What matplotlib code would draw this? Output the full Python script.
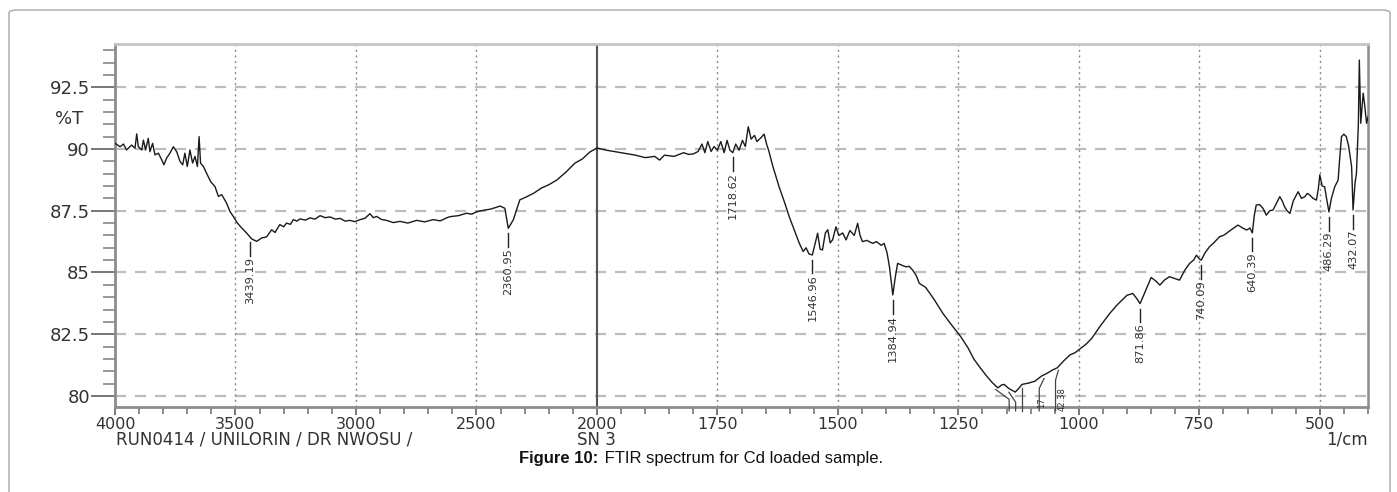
import numpy as np
import matplotlib
matplotlib.use("Agg")
import matplotlib.pyplot as plt
from matplotlib.ticker import FixedLocator, FixedFormatter
from matplotlib.patches import FancyBboxPatch

# ---------------- data ----------------
wavenumber = [
    4000, 3979, 3965, 3952, 3931, 3917, 3910, 3903, 3889, 3882, 3873, 3862, 3855, 3844,
    3834, 3820, 3806, 3797, 3786, 3772, 3758, 3744, 3730, 3719, 3710, 3700, 3689, 3678,
    3668, 3658, 3651, 3645, 3633, 3620, 3603, 3585, 3571, 3557, 3537, 3523, 3509, 3492,
    3474, 3454, 3433, 3412, 3391, 3371, 3350, 3336, 3316, 3300, 3288, 3272, 3260, 3245,
    3232, 3210, 3191, 3170, 3149, 3128, 3108, 3085, 3066, 3045, 3025, 3005, 2983, 2962,
    2942, 2928, 2914, 2895, 2873, 2845, 2817, 2785, 2748, 2715, 2679, 2650, 2624, 2610,
    2575, 2541, 2520, 2499, 2470, 2444, 2420, 2402, 2382, 2368, 2347, 2320, 2295, 2264,
    2230, 2200, 2167, 2130, 2091, 2060, 2029, 2000,
    1980, 1965, 1950, 1935, 1920, 1900, 1880, 1870, 1860, 1840, 1820, 1810, 1800,
    1790, 1782, 1776, 1770, 1763, 1757, 1750, 1743, 1736, 1730, 1724, 1718, 1712, 1705,
    1698, 1692, 1686, 1680, 1673, 1668, 1660, 1653, 1648, 1643, 1635, 1622, 1610, 1601,
    1590, 1580, 1572, 1566, 1560, 1553, 1547, 1542, 1537, 1532, 1526, 1521, 1516, 1511,
    1504, 1498, 1490, 1483, 1475, 1466, 1459, 1454, 1449, 1440, 1428, 1420, 1410, 1404,
    1398, 1393, 1386, 1381, 1376, 1368, 1359, 1352, 1345, 1338, 1331,
    1318, 1300, 1282, 1265, 1245, 1230, 1218, 1205, 1191, 1180, 1168, 1160, 1155, 1145,
    1132, 1125, 1118, 1105, 1091, 1078, 1064, 1055, 1045, 1030, 1018, 1008, 1000, 985,
    973, 955, 936, 920, 900, 888, 880, 873, 865, 850, 840, 832, 822, 812, 800, 791, 780,
    770, 762, 756, 750, 746, 738, 729, 720, 708, 700, 694, 686, 680, 670, 660, 652, 645,
    640, 636, 632, 625, 618, 611, 604, 597, 590, 583, 578, 573, 568, 562, 555, 545, 538,
    531, 526, 521, 514, 507, 503, 500, 495, 490, 486, 481, 476, 469, 462, 458, 455, 450,
    445, 440, 434, 431, 427, 424, 420, 418, 416, 415, 412, 410, 407, 403, 400,
]
transmittance = [
    90.23, 90.09, 90.20, 89.96, 90.16, 90.03, 90.61, 90.09, 89.96, 90.36, 89.96, 90.43, 89.89, 90.23,
    89.76, 89.83, 89.56, 89.36, 89.63, 89.83, 90.09, 89.89, 89.49, 89.36, 89.83, 89.29, 89.96, 89.43,
    89.70, 89.29, 90.50, 89.43, 89.29, 89.02, 88.68, 88.48, 88.08, 88.15, 87.81, 87.47, 87.27, 87.00,
    86.80, 86.60, 86.36, 86.26, 86.40, 86.44, 86.73, 86.62, 86.94, 86.85, 87.00, 86.95, 87.14, 87.08,
    87.17, 87.12, 87.21, 87.16, 87.30, 87.22, 87.25, 87.16, 87.19, 87.08, 87.11, 87.06, 87.14, 87.20,
    87.38, 87.22, 87.27, 87.15, 87.11, 87.02, 87.07, 87.00, 87.11, 87.05, 87.14, 87.09, 87.21, 87.26,
    87.30, 87.40, 87.36, 87.46, 87.52, 87.56, 87.63, 87.69, 87.60, 86.79, 87.13, 87.94, 88.05, 88.20,
    88.42, 88.55, 88.74, 89.05, 89.43, 89.60, 89.88, 90.04,
    89.95, 89.90, 89.85, 89.80, 89.75, 89.65, 89.70, 89.55, 89.75, 89.70, 89.85, 89.78, 89.80,
    89.90, 90.20, 89.85, 90.30, 89.90, 90.10, 89.95, 90.30, 89.85, 90.35, 89.95, 89.85, 90.20, 89.95,
    90.35, 90.10, 90.90, 90.40, 90.55, 90.30, 90.45, 90.60, 90.20, 89.90, 89.30, 88.47, 87.80, 87.26,
    86.70, 86.18, 85.85, 86.00, 85.75, 85.71, 86.20, 86.59, 85.95, 85.91, 86.60, 86.73, 86.20, 86.32,
    86.85, 86.50, 86.60, 86.32, 86.70, 86.50, 86.99, 86.50, 86.25, 86.30, 86.18, 86.25, 86.10, 86.18,
    85.80, 85.23, 84.09, 84.80, 85.37, 85.30, 85.23, 85.25, 85.10, 84.90, 84.56,
    84.40, 83.90, 83.34, 82.90, 82.40, 81.95, 81.50, 81.15, 80.80, 80.55, 80.33, 80.45, 80.47, 80.30,
    80.16, 80.30, 80.47, 80.52, 80.60, 80.80, 80.94, 81.05, 81.14, 81.45, 81.67, 81.75, 81.87, 82.10,
    82.34, 82.85, 83.34, 83.70, 84.08, 84.15, 83.95, 83.74, 84.10, 84.80, 84.65, 84.49, 84.70, 84.83, 84.75, 84.69, 85.10,
    85.37, 85.50, 85.70, 85.55, 85.50, 85.80, 86.04, 86.20, 86.45, 86.50, 86.58, 86.70, 86.78, 86.92, 86.80, 86.72, 86.80,
    86.60, 87.30, 87.73, 87.75, 87.60, 87.32, 87.50, 87.53, 87.80, 88.07, 87.90, 87.66, 87.50, 87.39, 87.90, 88.27, 88.00,
    88.07, 88.20, 88.14, 88.00, 87.93, 88.40, 88.95, 88.50, 88.47, 88.00, 87.45, 88.00, 88.47, 88.74, 89.80, 90.50, 90.60,
    90.50, 90.10, 89.28, 87.53, 88.60, 89.01, 91.00, 93.60, 92.00, 91.04, 91.80, 92.26, 91.80, 91.04, 91.30,
]

peak_labels = ["3439.19", "2360.95", "1718.62", "1546.96", "1384.94",
               "871.86", "740.09", "640.39", "486.29", "432.07"]
peak_wn = [3439.19, 2368.0, 1718.62, 1553.0, 1386.0, 873.0, 746.0, 640.0, 481.0, 431.0]

# crowded peaks near the minimum: leaders only, their labels run off the frame
crowded_wn = [1172.64, 1145.18, 1118.59, 1072.17, 1042.38]
# the label fragments still visible inside the frame
fragment_labels = ["17", "42.38"]
fragment_wn = [1077.0, 1034.0]

y_ticks = [80, 82.5, 85, 87.5, 90, 92.5]
y_ticklabels = ["80", "82.5", "85", "87.5", "90", "92.5"]
x_ticks = [4000, 3500, 3000, 2500, 2000, 1750, 1500, 1250, 1000, 750, 500]
x_ticklabels = ["4000", "3500", "3000", "2500", "2000", "1750", "1500", "1250", "1000", "750", "500"]

run_info = "RUN0414 / UNILORIN / DR NWOSU /"
sample_id = "SN 3"

# ---------------- figure ----------------
W, H = 1397, 492
fig = plt.figure(figsize=(W / 100, H / 100), dpi=100)


def fx(px):
    return px / W


def fy(py):
    return 1 - py / H


# outer rounded frame (bottom runs off the figure)
frame = FancyBboxPatch((fx(9), fy(530)), fx(1390) - fx(9), fy(10) - fy(530),
                       boxstyle="round,pad=0,rounding_size=0.006",
                       transform=fig.transFigure, fill=False,
                       edgecolor="#a8a8a8", linewidth=1.0)
fig.patches.append(frame)

ax = fig.add_axes([fx(115), fy(407), fx(1368) - fx(115), fy(44) - fy(407)])


def fwd(x):
    x = np.asarray(x, float)
    return np.where(x >= 2000, x, 2 * x - 2000)


def inv(u):
    u = np.asarray(u, float)
    return np.where(u >= 2000, u, (u + 2000) / 2)


ax.set_xscale("function", functions=(fwd, inv))
ax.set_xlim(4000, 400)
ax.set_ylim(79.555, 94.25)

wn = np.array(wavenumber, float)
tr = np.array(transmittance, float)
ax.plot(wn, tr, color="#1a1a1a", lw=1.0, zorder=5)

# grid
for yv in y_ticks:
    ax.axhline(yv, color="#bdbdbd", lw=1.6, ls=(0, (5, 4)), zorder=1)
for xv in x_ticks:
    if xv == 4000:
        continue
    if xv == 2000:
        ax.axvline(xv, color="#555555", lw=1.5, zorder=2)
    else:
        ax.axvline(xv, color="#8a8a8a", lw=1.0, ls=(0, (1.5, 2.5)), zorder=1)

# ticks
minor_x = [v for v in range(4000, 2000, -100) if v not in x_ticks] + \
          [v for v in range(2000, 399, -50) if v not in x_ticks]
minor_y = [v for v in np.arange(80, 94.3, 0.5) if min(abs(v - t) for t in y_ticks) > 1e-6]
ax.xaxis.set_major_locator(FixedLocator(x_ticks))
ax.xaxis.set_major_formatter(FixedFormatter(x_ticklabels))
ax.xaxis.set_minor_locator(FixedLocator(minor_x))
ax.yaxis.set_major_locator(FixedLocator(y_ticks))
ax.yaxis.set_major_formatter(FixedFormatter(y_ticklabels))
ax.yaxis.set_minor_locator(FixedLocator(minor_y))

ax.tick_params(axis="x", which="major", length=6, width=1.4, color="#777777",
               direction="out", pad=1.5, labelcolor="#333333", labelsize=11.5)
ax.tick_params(axis="x", which="minor", length=5, width=1.2, color="#777777", direction="out")
ax.tick_params(axis="y", which="major", length=17, width=1.4, color="#777777",
               direction="out", pad=1, labelcolor="#333333", labelsize=13)
ax.tick_params(axis="y", which="minor", length=8.5, width=1.2, color="#888888", direction="out")
for lab in ax.get_xticklabels() + ax.get_yticklabels():
    lab.set_family("DejaVu Sans")

for side, col, lw in (("left", "#8c8c8c", 2.0), ("bottom", "#8c8c8c", 2.0),
                      ("top", "#c4c4c4", 2.0), ("right", "#8c8c8c", 1.8)):
    ax.spines[side].set_color(col)
    ax.spines[side].set_linewidth(lw)

# peak labels
for lab, w in zip(peak_labels, peak_wn):
    t = np.interp(w, wn[::-1], tr[::-1])
    ax.plot([w, w], [t - 0.2, t - 0.75], color="#222222", lw=1.0, zorder=6)
    ax.text(w, t - 0.8, lab, rotation=90, ha="center", va="top",
            fontsize=8.2, color="#333333", family="DejaVu Sans", zorder=6)

# crowded leaders
offsets = [-28, -14, 0, 10, 6]
for w, off in zip(crowded_wn, offsets):
    t = np.interp(w, wn[::-1], tr[::-1])
    w2 = w + off
    ax.plot([w, w2, w2], [t - 0.15, t - 0.55, 79.4], color="#444444", lw=0.9,
            zorder=6, clip_on=False)
for lab, w in zip(fragment_labels, fragment_wn):
    ax.text(w, 80.35 if len(lab) > 2 else 79.95, lab, rotation=90, ha="center", va="top",
            fontsize=6, color="#333333", family="DejaVu Sans", zorder=6)

# texts
fig.text(fx(83), fy(119), "%T", ha="right", va="center", fontsize=13,
         color="#333333", family="DejaVu Sans")
fig.text(fx(116), fy(440), run_info, ha="left",
         va="center", fontsize=12, color="#333333", family="DejaVu Sans")
fig.text(fx(577), fy(440), sample_id, ha="left",
         va="center", fontsize=12, color="#333333", family="DejaVu Sans")
fig.text(fx(1368), fy(440), "1/cm", ha="right", va="center", fontsize=12,
         color="#333333", family="DejaVu Sans")

fig.text(fx(598), fy(459), "Figure 10:", ha="right", va="center", fontsize=12,
         fontweight="bold", color="#111111", family="Liberation Sans")
fig.text(fx(600), fy(459), " FTIR spectrum for Cd loaded sample.", ha="left", va="center",
         fontsize=12, color="#111111", family="Liberation Sans")

fig.savefig("out.png", dpi=100)
